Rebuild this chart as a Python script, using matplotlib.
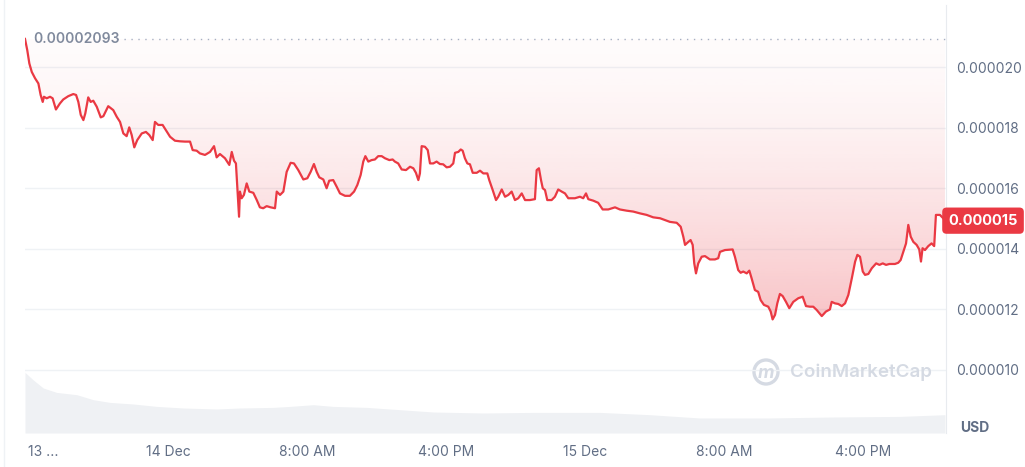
import numpy as np
import matplotlib
matplotlib.use("Agg")
import matplotlib.pyplot as plt
from matplotlib.patches import PathPatch, Circle
from matplotlib.transforms import blended_transform_factory, IdentityTransform

plt.rcParams['font.family'] = ['Inter', 'DejaVu Sans']

# hours from 14 Dec 00:00
hours = [-8.23, -8.10, -7.98, -7.84, -7.65, -7.46, -7.33, -7.21, -7.14, -6.98,
         -6.79, -6.64, -6.45, -6.22, -6.03, -5.74, -5.45, -5.29, -5.16, -5.02,
         -4.87, -4.76, -4.59, -4.45, -4.30, -4.10, -3.87, -3.72, -3.44, -3.15,
         -2.95, -2.76, -2.57, -2.38, -2.23, -2.09, -1.94, -1.77, -1.51, -1.27,
         -1.08, -0.88, -0.75, -0.56, -0.31, -0.12, 0.12, 0.40, 0.69, 0.98,
         1.27, 1.42, 1.65, 1.84, 2.13, 2.42, 2.65, 2.80, 2.99, 3.28,
         3.53, 3.67, 3.80, 3.91, 4.01, 4.09, 4.14, 4.24, 4.37, 4.53,
         4.68, 4.91, 5.11, 5.29, 5.48, 5.68, 5.91, 6.16, 6.26, 6.45,
         6.64, 6.83, 7.06, 7.25, 7.50, 7.79, 8.02, 8.21, 8.40, 8.56,
         8.71, 8.94, 9.13, 9.28, 9.51, 9.71, 9.90, 10.19, 10.47, 10.71,
         10.90, 11.09, 11.24, 11.36, 11.53, 11.72, 11.91, 12.10, 12.30, 12.49,
         12.74, 12.93, 13.06, 13.25, 13.45, 13.70, 13.93, 14.12, 14.27, 14.41,
         14.50, 14.60, 14.79, 14.95, 15.08, 15.27, 15.46, 15.65, 15.84, 16.04,
         16.23, 16.42, 16.52, 16.71, 16.85, 16.96, 17.09, 17.23, 17.38, 17.54,
         17.77, 17.96, 18.15, 18.38, 18.49, 18.69, 18.88, 19.01, 19.21, 19.40,
         19.59, 19.78, 19.97, 20.16, 20.36, 20.55, 20.83, 21.12, 21.22, 21.35,
         21.47, 21.57, 21.70, 21.83, 22.08, 22.27, 22.46, 22.66, 22.85, 23.04,
         23.42, 23.71, 23.90, 24.06, 24.19, 24.48, 24.76, 25.02, 25.34, 25.73,
         26.01, 26.40, 26.78, 27.17, 27.55, 27.93, 28.32, 28.51, 28.89, 29.28,
         29.51, 29.66, 29.76, 29.95, 30.08, 30.20, 30.29, 30.39, 30.52, 30.72,
         30.91, 31.19, 31.48, 31.67, 31.77, 32.06, 32.50, 32.63, 32.82, 32.96,
         33.11, 33.31, 33.46, 33.59, 33.78, 33.97, 34.11, 34.30, 34.55, 34.69,
         34.80, 34.94, 35.07, 35.22, 35.38, 35.57, 35.76, 35.99, 36.28, 36.53,
         36.72, 36.95, 37.14, 37.34, 37.63, 37.87, 38.10, 38.20, 38.39, 38.58,
         38.78, 38.97, 39.16, 39.36, 39.55, 39.68, 39.83, 39.99, 40.12, 40.31,
         40.51, 40.76, 40.95, 41.14, 41.33, 41.52, 41.84, 42.03, 42.17, 42.32,
         42.48, 42.61, 42.75, 42.90, 43.09, 43.24, 43.34, 43.43, 43.57, 43.76,
         43.95, 44.10, 44.20, 44.43, 44.62, 44.72]

# price in units of 1e-6 USD
price = [20.93, 20.56, 20.12, 19.84, 19.63, 19.46, 19.08, 18.85, 19.02, 18.97,
         19.02, 18.97, 18.60, 18.80, 18.93, 19.04, 19.11, 19.08, 18.85, 18.42,
         18.25, 18.47, 19.00, 18.85, 18.89, 18.69, 18.34, 18.38, 18.71, 18.58,
         18.36, 18.19, 17.81, 17.72, 18.01, 17.76, 17.35, 17.59, 17.81, 17.86,
         17.76, 17.59, 18.19, 18.09, 18.09, 17.92, 17.70, 17.57, 17.55, 17.54,
         17.54, 17.26, 17.24, 17.15, 17.10, 17.20, 17.39, 17.02, 17.13, 16.99,
         16.77, 17.20, 16.91, 16.82, 15.83, 15.06, 15.89, 15.67, 15.78, 16.16,
         15.89, 15.85, 15.61, 15.37, 15.34, 15.41, 15.37, 15.34, 15.89, 15.78,
         15.89, 16.54, 16.84, 16.82, 16.60, 16.29, 16.33, 16.54, 16.80, 16.54,
         16.36, 16.29, 16.00, 16.25, 16.27, 16.05, 15.83, 15.75, 15.75, 15.89,
         16.11, 16.44, 16.88, 17.06, 16.88, 16.93, 16.95, 17.06, 17.06, 16.99,
         16.93, 16.95, 16.88, 16.82, 16.62, 16.60, 16.71, 16.66, 16.51, 16.27,
         16.49, 17.39, 17.37, 17.26, 16.82, 16.82, 16.88, 16.80, 16.79, 16.69,
         16.71, 16.82, 17.17, 17.20, 17.28, 17.24, 16.99, 16.82, 16.79, 16.51,
         16.51, 16.58, 16.49, 16.49, 16.27, 15.94, 15.61, 15.72, 15.96, 15.72,
         15.78, 15.89, 15.61, 15.67, 15.83, 15.61, 15.61, 15.64, 16.60, 16.66,
         16.27, 16.00, 15.94, 15.61, 15.61, 15.72, 15.96, 15.89, 15.83, 15.67,
         15.67, 15.72, 15.67, 15.83, 15.64, 15.59, 15.52, 15.30, 15.30, 15.37,
         15.30, 15.26, 15.23, 15.17, 15.12, 15.04, 15.01, 14.97, 14.89, 14.86,
         14.73, 14.40, 14.13, 14.23, 14.29, 14.13, 13.52, 13.19, 13.52, 13.74,
         13.76, 13.65, 13.65, 13.69, 13.90, 13.96, 13.98, 13.74, 13.30, 13.21,
         13.25, 13.19, 13.28, 13.03, 12.64, 12.58, 12.31, 12.15, 12.09, 11.93,
         11.67, 11.82, 12.20, 12.51, 12.44, 12.25, 12.04, 12.25, 12.37, 12.42,
         12.11, 12.09, 12.09, 11.98, 11.78, 11.93, 12.00, 12.25, 12.20, 12.18,
         12.11, 12.20, 12.48, 13.03, 13.58, 13.80, 13.74, 13.25, 13.14, 13.17,
         13.36, 13.52, 13.47, 13.52, 13.47, 13.50, 13.50, 13.54, 13.63, 13.90,
         14.18, 14.79, 14.40, 14.23, 14.13, 13.98, 13.58, 14.02, 13.96, 14.09,
         14.18, 14.09, 15.12, 15.12, 15.01, 14.93]

vol_hours = [-8.23, -7.75, -7.18, -6.41, -5.25, -4.30, -3.34, -2.00, -0.65, 0.88,
             2.80, 4.14, 6.06, 7.02, 8.36, 9.51, 11.44, 13.35, 15.27, 18.15,
             21.01, 24.86, 27.74, 30.62, 34.46, 38.29, 42.13, 44.72]
volume = [6.06, 5.30, 4.50, 4.06, 3.83, 3.33, 3.06, 2.90, 2.66, 2.50,
          2.40, 2.50, 2.56, 2.66, 2.83, 2.66, 2.56, 2.33, 2.10, 2.00,
          2.06, 2.06, 1.83, 1.50, 1.50, 1.60, 1.66, 1.83]

xtick_pos = [-7.19, 0, 8, 16, 24, 32, 40]
xtick_labels = ["13 ...", "14 Dec", "8:00 AM", "4:00 PM", "15 Dec", "8:00 AM", "4:00 PM"]
ytick_pos = [10, 12, 14, 16, 18, 20]

red = "#EA3943"
grey_txt = "#616E85"
grid_c = "#EFF2F5"

t = np.array(hours)
p = np.array(price)
high = p.max()

fig = plt.figure(figsize=(10.25, 4.67), dpi=100)
ax = fig.add_axes([25 / 1025, 1 - 433 / 467, 921 / 1025, 428 / 467])
vax = ax.twinx()
ax.set_zorder(2)
ax.patch.set_visible(False)
vax.set_zorder(1)

# volume
vax.fill_between(vol_hours, 0, volume, color="#EFF1F4", lw=0)
vax.set_ylim(0, max(volume) / 0.1416)
vax.axis("off")

# price line + gradient fill above it
ax.plot(t, p, color=red, lw=1.6, zorder=4, solid_joinstyle="round")
poly = ax.fill_between(t, p, high, color="none", lw=0)
clip = PathPatch(poly.get_paths()[0], transform=ax.transData, facecolor="none", edgecolor="none")
ax.add_patch(clip)
n = 256
frac = np.linspace(1, 0, n)  # bottom -> top
alpha = 0.02 + 0.28 * frac ** 1.5
rgba = np.zeros((n, 1, 4))
rgba[:, 0, :3] = matplotlib.colors.to_rgb(red)
rgba[:, 0, 3] = alpha
im = ax.imshow(rgba, extent=[t[0], t[-1], p.min(), high], origin="lower",
               aspect="auto", zorder=2, interpolation="bilinear")
im.set_clip_path(clip)

# high marker line
ax.axhline(high, xmin=0.1, xmax=1, color="#A6B0C3", lw=1, ls=(0, (1, 4)), zorder=3)
ax.text(0.009, high, f"{high * 1e-6:.8f}", transform=blended_transform_factory(ax.transAxes, ax.transData),
        color="#808A9D", fontsize=10, fontweight="semibold", va="center", ha="left")

ax.set_xlim(-8.23, 44.78)
ax.set_ylim(7.92, 22.05)
ax.yaxis.tick_right()
ax.set_yticks(ytick_pos)
ax.set_yticklabels([f"{v * 1e-6:.6f}" for v in ytick_pos])
ax.set_xticks(xtick_pos)
ax.set_xticklabels(xtick_labels)
ax.tick_params(axis="both", length=0, labelsize=10, labelcolor=grey_txt)
ax.tick_params(axis="x", pad=9)
ax.tick_params(axis="y", pad=7)
ax.grid(axis="y", color=grid_c, lw=1)
ax.grid(axis="x", visible=False)
for s in ["top", "left", "bottom"]:
    ax.spines[s].set_visible(False)
ax.spines["right"].set_color("#E8EBEF")

# current price badge
ax.text(1.0402, p[-1], f"{p[-1] * 1e-6:.6f}", transform=blended_transform_factory(ax.transAxes, ax.transData),
        color="white", fontsize=10.5, fontweight="bold", ha="center", va="center", zorder=6,
        bbox=dict(boxstyle="round,pad=0.42,rounding_size=0.3", fc=red, ec="none"), clip_on=False)

fig.text(960 / 1025, 1 - 428 / 467, "USD", color=grey_txt, fontsize=10, fontweight="bold", va="center")

# watermark
fig.patches.append(Circle((766, 467 - 372), 12, transform=IdentityTransform(), fill=False,
                          ec="#D5DAE3", lw=2.4))
fig.text(766 / 1025, 1 - 373 / 467, "m", color="#D5DAE3", fontsize=13, fontweight="bold",
         style="italic", ha="center", va="center")
fig.text(790 / 1025, 1 - 372 / 467, "CoinMarketCap", color="#D5DAE3", fontsize=13.5,
         fontweight="semibold", ha="left", va="center")

fig.add_artist(plt.Line2D([4 / 1025, 4 / 1025], [0, 1], color=grid_c, lw=1))

fig.savefig("out.png", dpi=100)
